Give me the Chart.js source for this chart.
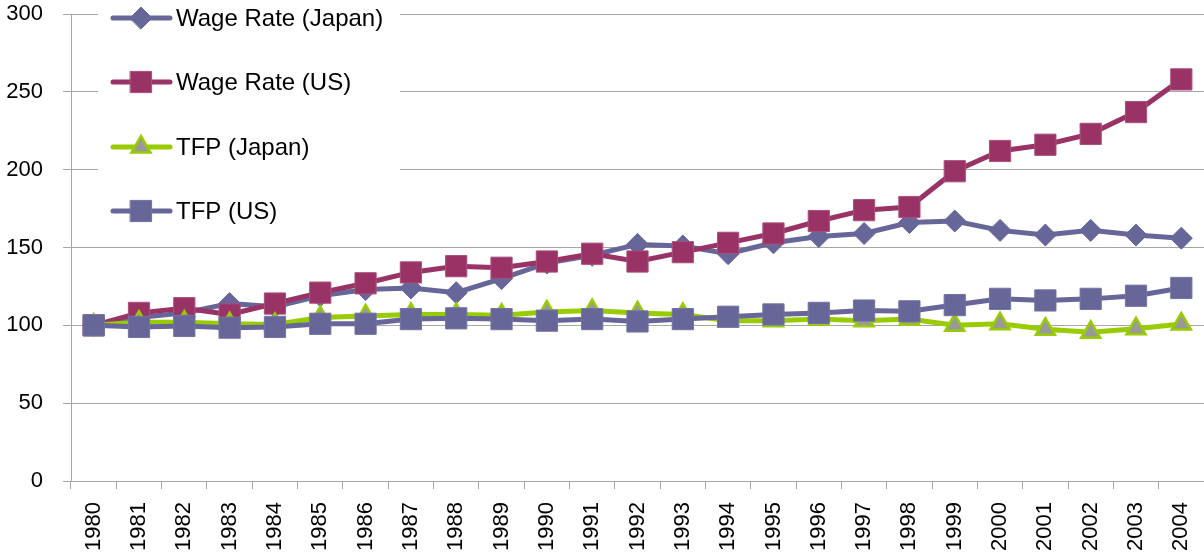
<!DOCTYPE html>
<html>
<head>
<meta charset="utf-8">
<script src="https://cdn.jsdelivr.net/npm/chart.js@4/dist/chart.umd.min.js"></script>
<style>
  html, body { margin: 0; padding: 0; background: #fff; }
  #wrap { width: 1204px; height: 558px; }
</style>
</head>
<body>
<div id="wrap"><canvas id="chart"></canvas></div>
<script>
const years = ["1980", "1981", "1982", "1983", "1984", "1985", "1986", "1987", "1988", "1989",
  "1990", "1991", "1992", "1993", "1994", "1995", "1996", "1997", "1998", "1999",
  "2000", "2001", "2002", "2003", "2004"];

const wageJapan = [100, 105, 108, 114, 112, 119, 123, 124, 121, 130,
  140, 145, 152, 151, 146, 153, 157, 159, 166, 167,
  161, 158, 161, 158, 156];
const wageUS = [100, 108, 111, 107, 114, 121, 127, 134, 138, 137,
  141, 146, 141, 147, 153, 159, 167, 174, 176, 199,
  212, 216, 223, 237, 258];
const tfpJapan = [100, 102, 102, 101, 100.5, 105, 106, 107, 107, 106.5,
  108.5, 109.5, 108, 107, 103, 103, 104, 103, 104, 100,
  101, 97.5, 95.5, 97.8, 100.8];
const tfpUS = [100, 99, 99.6, 98.5, 99, 101, 101, 104, 104.5, 104,
  103, 104, 102.5, 104, 105.5, 107, 108, 109.5, 109, 113,
  117, 116, 117, 119, 124];

const seriesNames = ["Wage Rate (Japan)", "Wage Rate (US)", "TFP (Japan)", "TFP (US)"];
const yTicks = [0, 50, 100, 150, 200, 250, 300];

const gridColor = "#a6a6a6";
const font = "'Liberation Sans', Arial, sans-serif";

// legend drawn inside the plot, on a white box over the grid
const insideLegend = {
  id: "insideLegend",
  beforeDatasetsDraw(chart) {
    const ctx = chart.ctx;
    const rows = [18, 82, 147, 211];
    ctx.save();
    ctx.fillStyle = "#fff";
    ctx.fillRect(98, 0, 302, 234);
    chart.data.datasets.forEach((ds, i) => {
      const y = rows[i];
      ctx.strokeStyle = ds.borderColor;
      ctx.lineWidth = 5;
      ctx.lineCap = "round";
      ctx.beginPath();
      ctx.moveTo(113, y);
      ctx.lineTo(170, y);
      ctx.stroke();
      ctx.fillStyle = ds.pointBackgroundColor;
      ctx.strokeStyle = ds.pointBorderColor;
      ctx.lineWidth = ds.pointBorderWidth;
      Chart.helpers.drawPoint(ctx, {
        pointStyle: ds.pointStyle,
        radius: ds.pointRadius,
        borderWidth: ds.pointBorderWidth,
        rotation: 0,
      }, 141, y);
      ctx.fillStyle = "#000";
      ctx.font = "24px " + font;
      ctx.textBaseline = "middle";
      ctx.textAlign = "left";
      ctx.fillText(ds.label, 176, y + 1);
    });
    ctx.restore();
  },
};

const ctx = document.getElementById("chart").getContext("2d");
new Chart(ctx, {
  type: "line",
  data: {
    labels: years,
    datasets: [
      {
        label: seriesNames[0],
        data: wageJapan,
        borderColor: "#666699",
        pointBackgroundColor: "#666699",
        pointBorderColor: "#666699",
        pointBorderWidth: 1,
        pointStyle: "rectRot",
        pointRadius: 11,
        order: 4,
      },
      {
        label: seriesNames[1],
        data: wageUS,
        borderColor: "#993366",
        pointBackgroundColor: "#993366",
        pointBorderColor: "#a9507c",
        pointBorderWidth: 1,
        pointStyle: "rect",
        pointRadius: 15,
        order: 3,
      },
      {
        label: seriesNames[2],
        data: tfpJapan,
        borderColor: "#99cc00",
        pointBackgroundColor: "#999999",
        pointBorderColor: "#99cc00",
        pointBorderWidth: 2.5,
        pointStyle: "triangle",
        pointRadius: 11,
        order: 2,
      },
      {
        label: seriesNames[3],
        data: tfpUS,
        borderColor: "#666699",
        pointBackgroundColor: "#666699",
        pointBorderColor: "#7373a3",
        pointBorderWidth: 1,
        pointStyle: "rect",
        pointRadius: 15,
        order: 1,
      },
    ],
  },
  options: {
    responsive: true,
    maintainAspectRatio: false,
    animation: false,
    layout: { autoPadding: false, padding: { top: 14, right: 0, left: 0, bottom: 0 } },
    elements: {
      line: { borderWidth: 5, tension: 0 },
      point: { hoverRadius: 11 },
    },
    plugins: { legend: { display: false }, tooltip: { enabled: false } },
    scales: {
      x: {
        offset: true,
        grid: {
          offset: true,
          drawOnChartArea: false,
          drawTicks: true,
          tickLength: 8,
          color: gridColor,
        },
        border: { color: gridColor },
        ticks: {
          color: "#000",
          font: { family: font, size: 22 },
          maxRotation: 90,
          minRotation: 90,
          padding: 13,
          autoSkip: false,
        },
        afterFit(scale) {
          scale.height = 77;
          scale.paddingLeft = 0;
          scale.paddingRight = 0;
        },
      },
      y: {
        min: 0,
        max: 300,
        afterBuildTicks(scale) {
          scale.ticks = yTicks.map((v) => ({ value: v }));
        },
        grid: { color: gridColor, tickLength: 8 },
        border: { color: gridColor },
        ticks: {
          color: "#000",
          font: { family: font, size: 22 },
          padding: 20,
        },
        afterFit(scale) {
          scale.width = 71;
          scale.paddingTop = 0;
          scale.paddingBottom = 0;
        },
      },
    },
  },
  plugins: [insideLegend],
});
</script>
</body>
</html>
